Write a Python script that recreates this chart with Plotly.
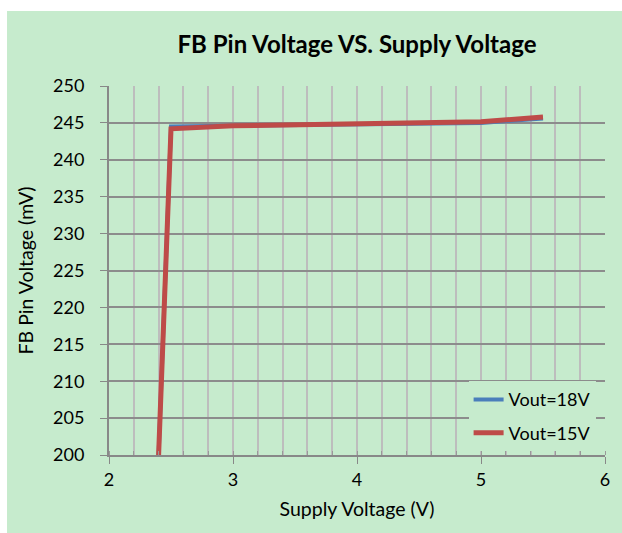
import plotly.graph_objects as go

supply_v = [2.4, 2.5, 3.0, 3.5, 4.0, 4.5, 5.0, 5.5]
fb_18v = [200, 244.5, 244.6, 244.7, 244.75, 244.8, 245.0, 245.6]
fb_15v = [200, 244.2, 244.6, 244.75, 244.85, 244.95, 245.15, 245.8]
series_names = ["Vout=18V", "Vout=15V"]
x_ticks = [2, 3, 4, 5, 6]
y_ticks = [200, 205, 210, 215, 220, 225, 230, 235, 240, 245, 250]

BG = "#c6ebcd"
FONT = "Lato"

fig = go.Figure()
fig.add_trace(go.Scatter(x=supply_v, y=fb_18v, mode="lines", name=series_names[0],
                         legendgroup="a", line=dict(color="#4a7ebb", width=4)))
fig.add_trace(go.Scatter(x=supply_v, y=fb_15v, mode="lines", name=series_names[1],
                         legendgroup="b", line=dict(color="#be4b48", width=5)))

fig.add_shape(type="rect", xref="paper", yref="paper", x0=-0.2056, x1=1.1, y0=-0.3, y1=1.2033,
              fillcolor=BG, line=dict(width=0), layer="below")

fig.update_layout(
    width=622, height=533,
    margin=dict(l=109, r=17, t=86, b=78),
    paper_bgcolor="white",
    plot_bgcolor="rgba(0,0,0,0)",
    font=dict(family=FONT, size=18, color="black"),
    title=dict(text="<b>FB Pin Voltage VS. Supply Voltage</b>", x=0.5, xref="paper", xanchor="center",
               y=1 - 45 / 533, yanchor="middle", font=dict(size=24, family=FONT)),
    showlegend=True,
    legend=dict(x=0.725, y=0.2, xanchor="left", yanchor="top", bgcolor=BG,
                font=dict(size=18), tracegroupgap=7, traceorder="grouped"),
    xaxis=dict(range=[2, 6], tickvals=x_ticks, showgrid=True, gridcolor="#bdbdbd", gridwidth=1.5,
               minor=dict(dtick=0.2, showgrid=True, gridcolor="#bdbdbd", gridwidth=1.5,
                          ticks="inside", ticklen=4, tickcolor="#999"),
               ticks="outside", ticklen=7, tickcolor="#888", showline=True, linecolor="#888",
               linewidth=2, zeroline=False,
               title=dict(text="Supply Voltage (V)", font=dict(size=19.5), standoff=14)),
    yaxis=dict(range=[200, 250], tickvals=y_ticks, showgrid=True, gridcolor="#8c8c8c", gridwidth=2,
               ticks="outside", ticklen=7, tickcolor="#888", showline=True, linecolor="#888",
               linewidth=2, zeroline=False, ticklabelstandoff=12,
               title=dict(text="FB Pin Voltage (mV)", font=dict(size=19.5), standoff=14)),
)

fig.write_html("out.html", config={"displayModeBar": False},
               post_script="document.body.style.margin='0';")
